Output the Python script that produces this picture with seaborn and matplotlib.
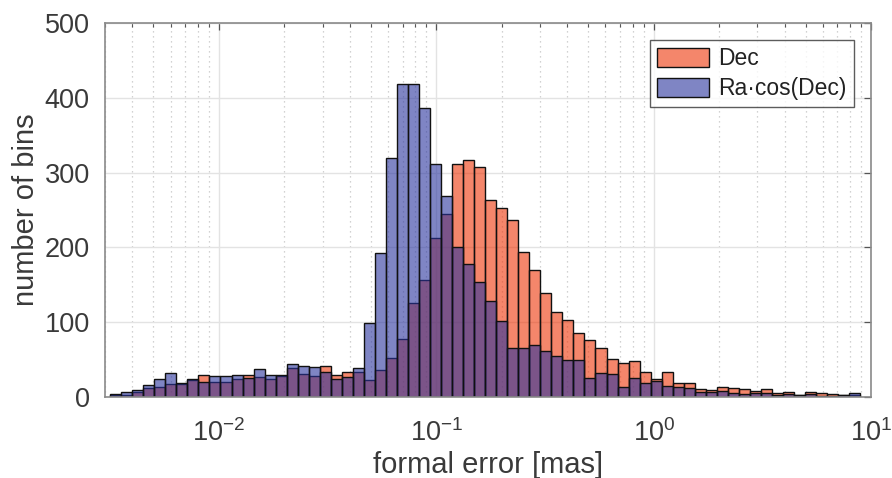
import numpy as np
import pandas as pd
import matplotlib
matplotlib.use("Agg")
import matplotlib.pyplot as plt
import seaborn as sns

# bin edges in log10(mas), 68 bins
log_edges = list(np.linspace(-2.5, 0.95, 69))

# counts per bin
ra_counts = [4, 7, 9, 16, 24, 32, 19, 24, 20, 28, 28, 30, 25, 38, 30, 29, 44, 41, 40, 33,
             24, 27, 39, 99, 193, 319, 418, 419, 386, 312, 269, 200, 178, 154, 128, 101, 66, 65, 69, 61,
             55, 50, 49, 26, 32, 31, 13, 26, 19, 21, 15, 14, 12, 7, 6, 8, 5, 4, 5, 5,
             3, 4, 3, 4, 1, 1, 2, 5]
dec_counts = [2, 3, 6, 12, 13, 17, 18, 23, 29, 20, 20, 24, 30, 27, 24, 28, 39, 31, 28, 41,
              29, 34, 34, 23, 36, 52, 78, 126, 157, 213, 244, 311, 317, 307, 263, 253, 237, 194, 170, 139,
              114, 103, 85, 76, 66, 51, 45, 48, 33, 24, 33, 19, 19, 10, 9, 14, 12, 10, 8, 10,
              5, 7, 3, 6, 5, 4, 2, 3]

labels = ["Dec", "Ra\u00b7cos(Dec)"]
colors = ["#ed3508", "#2a349e"]
xtick_labels = ["$10^{-2}$", "$10^{-1}$", "$10^{0}$", "$10^{1}$"]

le = np.array(log_edges)
centers = 10 ** ((le[:-1] + le[1:]) / 2)
df = pd.DataFrame({
    "err": np.concatenate([centers, centers]),
    "n": np.concatenate([dec_counts, ra_counts]),
    "kind": [labels[0]] * len(centers) + [labels[1]] * len(centers),
})

sns.set_style("white")
plt.rcParams["font.family"] = ["Liberation Sans", "DejaVu Sans"]
plt.rcParams["mathtext.fontset"] = "custom"
plt.rcParams["mathtext.rm"] = "Liberation Sans"
plt.rcParams["mathtext.it"] = "Liberation Sans"
txt = "#3a3a3a"

fig = plt.figure(figsize=(8.92, 4.78), dpi=100)
ax = fig.add_axes([0.1177, 0.1695, 0.8588, 0.7824])

for lab, col in zip(labels, colors):
    sub = df[df["kind"] == lab]
    sns.histplot(data=sub, x="err", weights="n", bins=log_edges, log_scale=True,
                 color=col, alpha=0.6, edgecolor="#111111", linewidth=1.0,
                 label=lab, ax=ax)

ax.set_xlim(10 ** -2.524, 10)
ax.set_ylim(0, 500)
ax.set_yticks([0, 100, 200, 300, 400, 500])
ax.set_xticks([1e-2, 1e-1, 1e0, 1e1])
ax.set_xticklabels(xtick_labels)

ax.set_axisbelow(True)
ax.grid(True, which="major", color="#e3e3e3", linewidth=1.0)
ax.grid(True, which="minor", axis="x", color="#c4c4c4", linestyle=(0, (1, 3)), linewidth=0.9)
ax.grid(False, which="minor", axis="y")

ax.tick_params(which="both", direction="in", top=True, right=True, colors="#555555",
               labelcolor=txt, labelsize=19.5)
ax.tick_params(which="major", length=5, width=0.9)
ax.tick_params(which="minor", length=3, width=0.8)
ax.tick_params(axis="x", pad=16)
ax.tick_params(axis="y", pad=11)
for s in ax.spines.values():
    s.set_color("#8a8a8a")
    s.set_linewidth(1.2)

ax.set_xlabel("formal error [mas]", fontsize=21, color=txt, labelpad=3)
ax.set_ylabel("number of bins", fontsize=21, color=txt, labelpad=3)

leg = ax.legend(loc="upper right", fontsize=16.5, frameon=True, fancybox=False,
                edgecolor="#333333", borderaxespad=0.75, handlelength=2.3,
                handleheight=0.9, handletextpad=0.4, labelspacing=0.3,
                borderpad=0.3)
leg.get_frame().set_linewidth(1.0)
for t in leg.get_texts():
    t.set_color("#222222")

fig.savefig("out.png", dpi=100)
